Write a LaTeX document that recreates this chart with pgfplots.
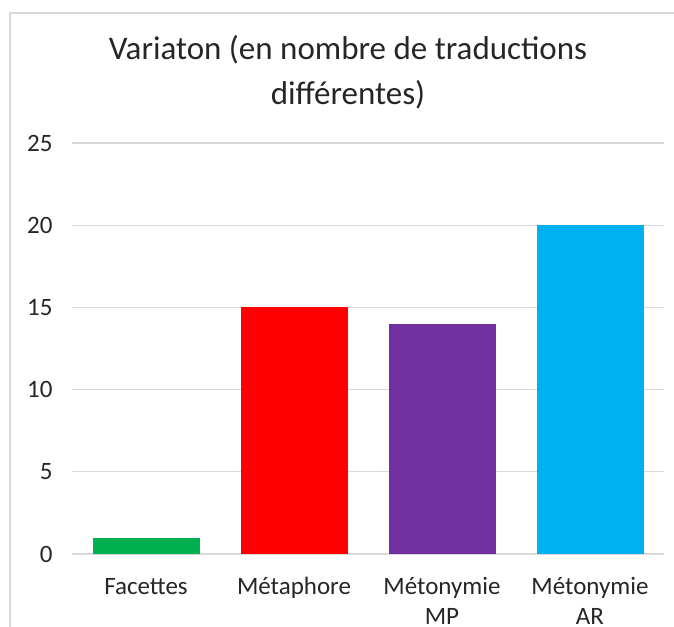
\documentclass[border=0pt]{standalone}
\usepackage{fontspec}
\setmainfont{Carlito}
\usepackage{pgfplots}
\pgfplotsset{compat=1.18}
\definecolor{cgreen}{HTML}{00B050}
\definecolor{cred}{HTML}{FF0000}
\definecolor{cpurple}{HTML}{7030A0}
\definecolor{cblue}{HTML}{00B0F0}
\definecolor{cgrid}{HTML}{D9D9D9}
\definecolor{ctext}{HTML}{262626}
\begin{document}
\begin{tikzpicture}[x=1bp,y=1bp]
\useasboundingbox (0,0) rectangle (674,627);
\clip (0,0) rectangle (674,627);
\draw[cgrid, line width=2bp] (10,-20) -- (10,614) -- (700,614);
\node[align=center, text=ctext, font=\fontsize{33bp}{45bp}\selectfont] at (348,555) {Variaton (en nombre de traductions\\différentes)};
\begin{axis}[
  at={(72bp,73bp)}, anchor=south west,
  scale only axis, width=592bp, height=411bp,
  xmin=-0.5, xmax=3.5, ymin=0, ymax=25,
  ytick={0,5,10,15,20,25},
  xtick={0,1,2,3},
  xticklabels={\strut Facettes, \strut Métaphore, \strut Métonymie\\MP, \strut Métonymie\\AR},
  axis line style={draw=none},
  tick style={draw=none},
  ymajorgrids, grid style={cgrid, line width=1.2bp},
  /pgf/number format/assume math mode=true,
  ticklabel style={font=\fontsize{25bp}{30bp}\selectfont, text=ctext},
  yticklabel style={xshift=-16bp},
  xticklabel style={align=center, anchor=north, yshift=-12bp},
  ybar, bar width=107bp, bar shift=0pt,
]
\addplot[fill=cgreen, draw=none] coordinates {(0,1)};
\addplot[fill=cred, draw=none] coordinates {(1,15)};
\addplot[fill=cpurple, draw=none] coordinates {(2,14)};
\addplot[fill=cblue, draw=none] coordinates {(3,20)};
\end{axis}
\end{tikzpicture}
\end{document}
